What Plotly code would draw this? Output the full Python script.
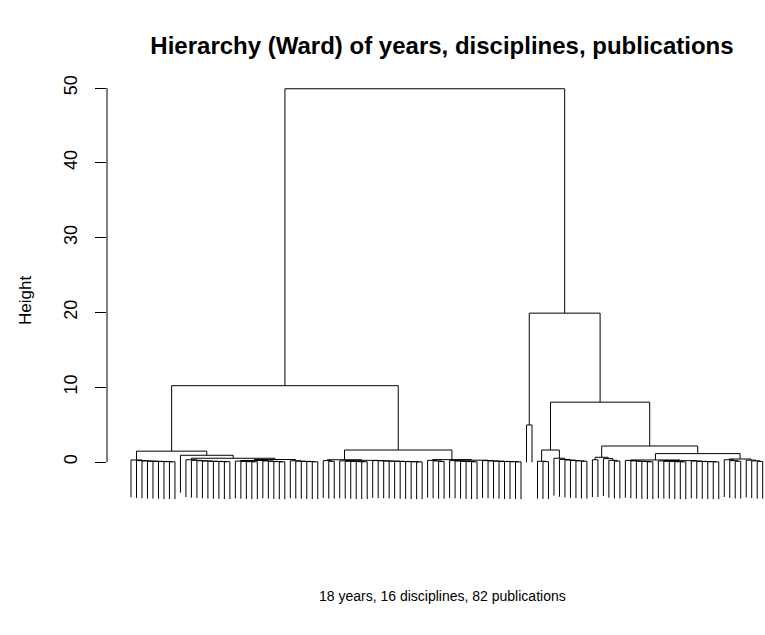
import plotly.graph_objects as go

# ---------------- data ----------------
# leaves are grouped into contiguous blocks; inside a block the leaves join one by one
# (R hclust style: the single leaf sits on the left of the growing cluster)
block_sizes = [9, 1, 9, 5, 5, 6, 3, 6, 10, 4, 6, 8, 2, 3, 7, 2, 4, 6, 6, 6, 4, 4]
block_inner_heights = [
    [0.03, 0.05, 0.07, 0.09, 0.11, 0.14, 0.19, 0.27],
    [],
    [0.04, 0.06, 0.08, 0.10, 0.13, 0.17, 0.22, 0.30],
    [0.03, 0.05, 0.08, 0.12],
    [0.02, 0.05, 0.09, 0.14],
    [0.03, 0.05, 0.08, 0.11, 0.16],
    [0.10, 0.18],
    [0.03, 0.05, 0.07, 0.10, 0.15],
    [0.02, 0.03, 0.05, 0.07, 0.09, 0.11, 0.13, 0.16, 0.19],
    [0.08, 0.14, 0.22],
    [0.03, 0.06, 0.09, 0.13, 0.18],
    [0.02, 0.04, 0.06, 0.08, 0.11, 0.14, 0.19],
    [4.95],
    [0.05, 0.10],
    [0.10, 0.15, 0.20, 0.26, 0.34, 0.50],
    [0.30],
    [0.12, 0.22, 0.45],
    [0.03, 0.06, 0.10, 0.15, 0.21],
    [0.02, 0.04, 0.07, 0.10, 0.14],
    [0.02, 0.04, 0.06, 0.09, 0.13],
    [0.10, 0.18, 0.30],
    [0.08, 0.15, 0.25],
]
# upper merges: negative = block number, positive = earlier merge row (1-based)
merge_left = [-4, 1, -3, -2, -1, -8, -7, -11, -10, 7, 5, -14, -16, -19, -18, -21, 15, 13, 12, -13, 11]
merge_right = [-5, -6, 2, 3, 4, -9, 6, -12, 8, 9, 10, -15, -17, -20, 14, -22, 16, 17, 18, 19, 20]
merge_heights = [0.20, 0.33, 0.50, 0.90, 1.45, 0.22, 0.30, 0.24, 0.32, 1.60, 10.20,
                 1.60, 0.63, 0.18, 0.27, 0.40, 1.12, 2.14, 8.00, 19.90, 49.90]

tick_values = [0, 10, 20, 30, 40, 50]
title_text = "Hierarchy (Ward) of years, disciplines, publications"
sub_text = "18 years, 16 disciplines, 82 publications"
y_label = "Height"

# ---------------- layout of the dendrogram ----------------
all_h = [h for hs in block_inner_heights for h in hs] + merge_heights
HANG = 0.1 * (max(all_h) - min(all_h))

xs, ys = [], []


def merge(a, b, h):
    # a, b: (x, top) ; top None for a leaf
    ya = a[1] if a[1] is not None else h - HANG
    yb = b[1] if b[1] is not None else h - HANG
    xs.extend([a[0], a[0], b[0], b[0], None])
    ys.extend([ya, h, h, yb, None])
    return ((a[0] + b[0]) / 2.0, h)


block_nodes = []
pos = 1
for size, hs in zip(block_sizes, block_inner_heights):
    leaves = list(range(pos, pos + size))
    pos += size
    cur = (float(leaves[-1]), None)
    for i, h in enumerate(hs):
        cur = merge((float(leaves[-2 - i]), None), cur, h)
    block_nodes.append(cur)

n_leaves = pos - 1
merged = []
for l, r, h in zip(merge_left, merge_right, merge_heights):
    a = block_nodes[-l - 1] if l < 0 else merged[l - 1]
    b = block_nodes[-r - 1] if r < 0 else merged[r - 1]
    merged.append(merge(a, b, h))

fig = go.Figure()
fig.add_trace(go.Scatter(x=xs, y=ys, mode="lines",
                         line=dict(color="black", width=1),
                         hoverinfo="skip", showlegend=False))

W, H = 765, 635
L, R, T, B = 107, 0, 70, 125
px_per_leaf = 5.493
x0 = 1 - (131 - L) / px_per_leaf
x1 = n_leaves + (W - R - 762.7) / px_per_leaf
ppu = 7.48
y1 = 50 + (88 - T) / ppu
y0 = -((H - B) - 462) / ppu

font = "Liberation Sans, Arial, Helvetica, sans-serif"
fig.update_layout(
    width=W, height=H,
    margin=dict(l=L, r=R, t=T, b=B, autoexpand=False),
    paper_bgcolor="white", plot_bgcolor="white",
    font=dict(family=font, size=14, color="black"),
    title=dict(text="<b>" + title_text + "</b>", x=442 / W, xref="container",
               xanchor="center", y=1 - 46 / H, yref="container", yanchor="middle",
               font=dict(family=font, size=24, color="black")),
    xaxis=dict(range=[x0, x1], visible=False, fixedrange=True, automargin=False),
    yaxis=dict(range=[y0, y1], tickvals=tick_values, ticktext=[str(v) for v in tick_values],
               ticks="outside", ticklen=11, tickcolor="black", tickwidth=1,
               tickangle=-90, showgrid=False, zeroline=False, showline=False,
               automargin=False, ticklabelstandoff=11, fixedrange=True,
               tickfont=dict(family=font, size=18, color="black")),
    shapes=[dict(type="line", xref="paper", yref="y", x0=0, x1=0,
                 y0=tick_values[0], y1=tick_values[-1],
                 line=dict(color="black", width=1))],
    annotations=[
        dict(text=sub_text, xref="paper", yref="paper",
             x=(442 - L) / (W - L - R), y=((H - B) - 596) / (H - T - B),
             xanchor="center", yanchor="middle", showarrow=False,
             font=dict(size=14, color="black")),
        dict(text=y_label, xref="paper", yref="paper",
             x=(25 - L) / (W - L - R), y=((H - B) - 301) / (H - T - B),
             xanchor="center", yanchor="middle", textangle=-90, showarrow=False,
             font=dict(size=17, color="black")),
    ],
)

fig.write_html("out.html", config={"displayModeBar": False, "staticPlot": True},
               post_script="document.body.style.margin='0';document.body.style.overflow='hidden';")
